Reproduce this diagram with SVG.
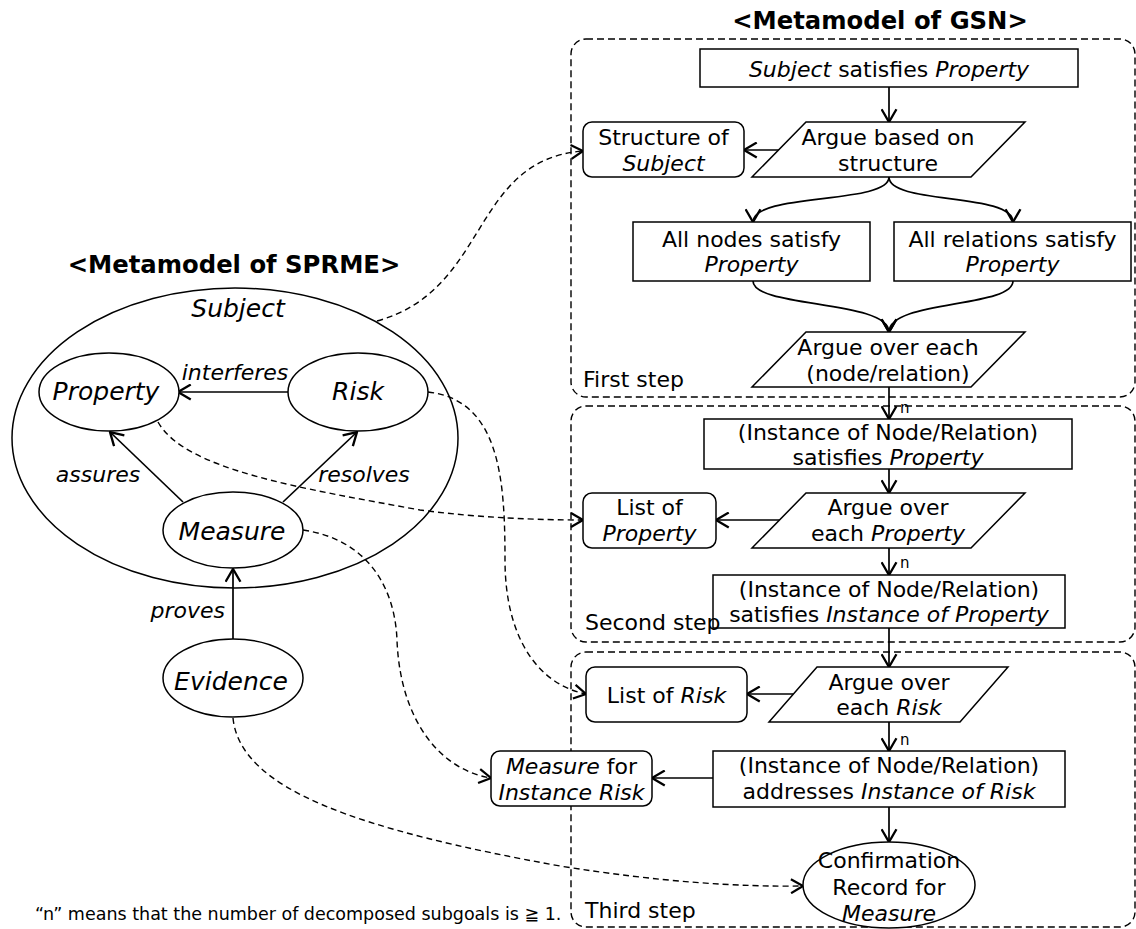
<svg xmlns="http://www.w3.org/2000/svg" width="1136" height="929" viewBox="0 0 1136 929">
  <defs>
    <style>
      text { font-family: "DejaVu Sans", Verdana, sans-serif; font-size: 22px; fill: #000; }
      .i { font-style: italic; }
      .c { text-anchor: middle; }
      .title { font-weight: bold; font-size: 24.3px; }
      .big { font-size: 25px; font-style: italic; }
      .n { font-size: 15px; }
      .note { font-size: 17.5px; }
      .box { fill: #fff; stroke: #000; stroke-width: 1.5; }
      .step { fill: none; stroke: #000; stroke-width: 1.4; stroke-dasharray: 7 4; }
      .ln { fill: none; stroke: #000; stroke-width: 1.7; marker-end: url(#arr); }
      .dl { fill: none; stroke: #000; stroke-width: 1.4; stroke-dasharray: 6 4; marker-end: url(#darr); }
    </style>
    <marker id="arr" viewBox="0 0 14 16" refX="13" refY="8" markerWidth="15" markerHeight="17" markerUnits="userSpaceOnUse" orient="auto">
      <path d="M1,1 L13,8 L1,15" fill="none" stroke="#000" stroke-width="2.2"/>
    </marker>
    <marker id="darr" viewBox="0 0 14 16" refX="13" refY="8" markerWidth="14" markerHeight="16" markerUnits="userSpaceOnUse" orient="auto">
      <path d="M1,1 L13,8 L1,15" fill="none" stroke="#000" stroke-width="2.2"/>
    </marker>
  </defs>

  <rect width="1136" height="929" fill="#fff"/>

  <!-- titles -->
  <text class="title c" x="880" y="29">&lt;Metamodel of GSN&gt;</text>
  <text class="title c" x="234" y="273">&lt;Metamodel of SPRME&gt;</text>

  <!-- step frames -->
  <g id="step1">
    <rect class="step" x="571" y="39" width="564" height="358" rx="15"/>
    <text x="583" y="387">First step</text>
  </g>
  <g id="step2">
    <rect class="step" x="571" y="406" width="564" height="236" rx="15"/>
  </g>
  <g id="step3">
    <rect class="step" x="571" y="652" width="564" height="275" rx="15"/>
    <text x="585" y="918">Third step</text>
  </g>

  <!-- SPRME container -->
  <g id="subject">
    <ellipse cx="235" cy="438" rx="223" ry="150" fill="none" stroke="#000" stroke-width="1.5"/>
    <text class="big c" x="238" y="317">Subject</text>
  </g>

  <!-- connectors -->
  <g id="connectors">
    <path class="ln" d="M889,87 L889,122"/>
    <path class="ln" d="M779,150 L744,150"/>
    <path class="ln" d="M889,177 C889,205 753,192 753,222"/>
    <path class="ln" d="M889,177 C889,205 1013,192 1013,222"/>
    <path class="ln" d="M753,281 C753,308 889,300 889,332"/>
    <path class="ln" d="M1013,281 C1013,308 889,300 889,332"/>
    <path class="ln" d="M889,387 L889,419"/>
    <path class="ln" d="M889,469 L889,493"/>
    <path class="ln" d="M780,520 L716,520"/>
    <path class="ln" d="M889,548 L889,575"/>
    <path class="ln" d="M889,628 L889,667"/>
    <path class="ln" d="M793,694 L747,694"/>
    <path class="ln" d="M889,722 L889,751"/>
    <path class="ln" d="M713,778 L652,778"/>
    <path class="ln" d="M889,807 L889,842"/>
    <text class="n" x="900" y="413">n</text>
    <text class="n" x="900" y="568">n</text>
    <text class="n" x="900" y="745">n</text>

    <path class="ln" d="M288,392 L178,392"/>
    <path class="ln" d="M183,502 L110,432"/>
    <path class="ln" d="M283,502 L357,432"/>
    <path class="ln" d="M233,639 L233,569"/>
    <text class="i c" x="235" y="380">interferes</text>
    <text class="i c" x="98" y="482">assures</text>
    <text class="i c" x="364" y="482">resolves</text>
    <text class="i" x="225" y="618" text-anchor="end">proves</text>

    <path class="dl" d="M377,321 C490,290 470,160 583,151"/>
    <path class="dl" d="M158,422 C185,470 300,488 420,510 C480,518 540,520 583,520"/>
    <path class="dl" d="M428,392 C500,400 505,480 505,560 C505,640 540,685 586,694"/>
    <path class="dl" d="M303,530 C370,540 395,590 397,640 C400,720 440,770 491,778"/>
    <path class="dl" d="M233,718 C240,790 360,830 560,866 C660,882 740,887 803,886"/>
  </g>

  <!-- SPRME nodes -->
  <g id="property">
    <ellipse class="box" cx="109" cy="392" rx="70" ry="39"/>
    <text class="big c" x="106" y="400">Property</text>
  </g>
  <g id="risk">
    <ellipse class="box" cx="358" cy="392" rx="70" ry="39"/>
    <text class="big c" x="358" y="400">Risk</text>
  </g>
  <g id="measure">
    <ellipse class="box" cx="233" cy="530" rx="70" ry="38"/>
    <text class="big c" x="232" y="540">Measure</text>
  </g>
  <g id="evidence">
    <ellipse class="box" cx="233" cy="678" rx="70" ry="39"/>
    <text class="big c" x="231" y="690">Evidence</text>
  </g>

  <!-- GSN nodes -->
  <g id="g-top">
    <rect class="box" x="700" y="49" width="378" height="38"/>
    <text class="c" x="889" y="77"><tspan class="i">Subject</tspan> satisfies <tspan class="i">Property</tspan></text>
  </g>
  <g id="s-structure">
    <polygon class="box" points="806,122 1025,122 971,177 752,177"/>
    <text class="c" x="888" y="145">Argue based on</text>
    <text class="c" x="888" y="171">structure</text>
  </g>
  <g id="c-structure">
    <rect class="box" x="583" y="122" width="161" height="55" rx="9"/>
    <text class="c" x="663.5" y="145">Structure of</text>
    <text class="i c" x="663.5" y="171">Subject</text>
  </g>
  <g id="g-nodes">
    <rect class="box" x="633" y="222" width="237" height="59"/>
    <text class="c" x="751.5" y="247">All nodes satisfy</text>
    <text class="i c" x="751.5" y="272">Property</text>
  </g>
  <g id="g-relations">
    <rect class="box" x="894" y="222" width="237" height="59"/>
    <text class="c" x="1012.5" y="247">All relations satisfy</text>
    <text class="i c" x="1012.5" y="272">Property</text>
  </g>
  <g id="s-each-element">
    <polygon class="box" points="806,332 1025,332 971,387 752,387"/>
    <text class="c" x="888" y="355">Argue over each</text>
    <text class="c" x="888" y="381">(node/relation)</text>
  </g>
  <g id="g-instance-property">
    <rect class="box" x="704" y="419" width="368" height="50"/>
    <text class="c" x="888" y="440">(Instance of Node/Relation)</text>
    <text class="c" x="888" y="465">satisfies <tspan class="i">Property</tspan></text>
  </g>
  <g id="s-each-property">
    <polygon class="box" points="806,493 1025,493 971,548 752,548"/>
    <text class="c" x="888" y="515">Argue over</text>
    <text class="c" x="888" y="541">each <tspan class="i">Property</tspan></text>
  </g>
  <g id="c-property-list">
    <rect class="box" x="583" y="493" width="133" height="55" rx="9"/>
    <text class="c" x="649.5" y="515">List of</text>
    <text class="i c" x="649.5" y="541">Property</text>
  </g>
  <g id="g-instance-of-property">
    <rect class="box" x="713" y="575" width="352" height="53"/>
    <text class="c" x="889" y="597">(Instance of Node/Relation)</text>
    <text class="c" x="889" y="622">satisfies <tspan class="i">Instance of Property</tspan></text>
  </g>
  <text x="585" y="630">Second step</text>
  <g id="s-each-risk">
    <polygon class="box" points="817,667 1008,667 960,722 769,722"/>
    <text class="c" x="889" y="690">Argue over</text>
    <text class="c" x="889" y="715">each <tspan class="i">Risk</tspan></text>
  </g>
  <g id="c-risk-list">
    <rect class="box" x="586" y="667" width="161" height="55" rx="9"/>
    <text class="c" x="666.5" y="703">List of <tspan class="i">Risk</tspan></text>
  </g>
  <g id="g-instance-risk">
    <rect class="box" x="713" y="751" width="352" height="56"/>
    <text class="c" x="889" y="773">(Instance of Node/Relation)</text>
    <text class="c" x="889" y="799">addresses <tspan class="i">Instance of Risk</tspan></text>
  </g>
  <g id="c-measure-risk">
    <rect class="box" x="491" y="751" width="161" height="55" rx="9"/>
    <text class="c" x="571.5" y="774"><tspan class="i">Measure</tspan> for</text>
    <text class="i c" x="571.5" y="800">Instance Risk</text>
  </g>
  <g id="e-confirmation">
    <ellipse class="box" cx="889" cy="885" rx="86" ry="43"/>
    <text class="c" x="889" y="868">Confirmation</text>
    <text class="c" x="889" y="895">Record for</text>
    <text class="i c" x="889" y="921">Measure</text>
  </g>

  <!-- footnote -->
  <text class="note" x="35" y="920">“n” means that the number of decomposed subgoals is ≧ 1.</text>
</svg>
